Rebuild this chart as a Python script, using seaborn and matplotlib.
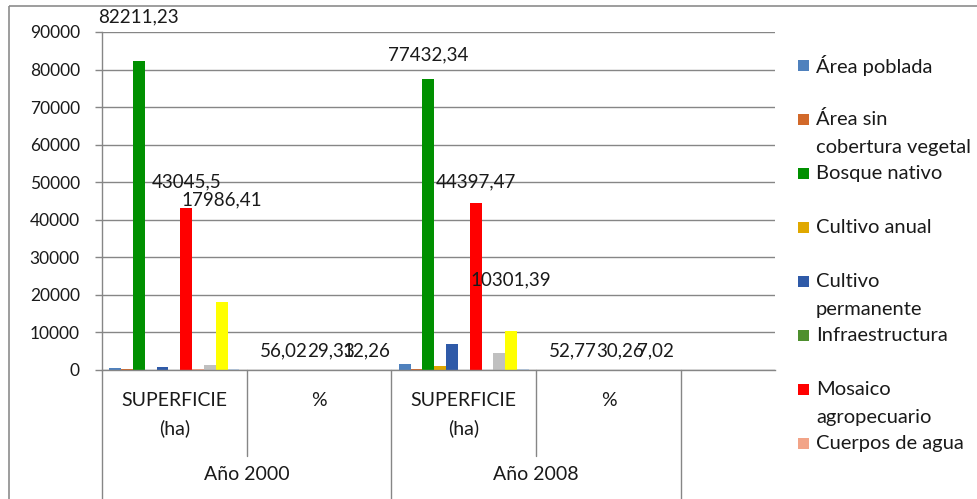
import textwrap
import pandas as pd
import seaborn as sns
import matplotlib.pyplot as plt
from matplotlib.patches import Rectangle

# datos
grupos = ['sup_2000', 'pct_2000', 'sup_2008', 'pct_2008']
nivel1 = ['SUPERFICIE\n(ha)', '%', 'SUPERFICIE\n(ha)', '%']
nivel2 = ['Año 2000', 'Año 2008']
series = ['Área poblada', 'Área sin cobertura vegetal', 'Bosque nativo',
          'Cultivo anual', 'Cultivo permanente', 'Infraestructura',
          'Mosaico agropecuario', 'Cuerpos de agua',
          'Serie 9', 'Serie 10', 'Serie 11']
colores = ['#4F81BD', '#D2692A', '#009000', '#E0A800', '#2F5AA8', '#4E8F2E',
           '#FF0000', '#F2A488', '#C0C0C0', '#FFFF00', '#B8CCE4']

sup_2000 = [450, 350, 82211.23, 100, 900, 60, 43045.5, 200, 1300, 17986.41, 150]
pct_2000 = [0.31, 0.24, 56.02, 0.07, 0.61, 0.04, 29.33, 0.14, 0.89, 12.26, 0.10]
sup_2008 = [1600, 250, 77432.34, 1000, 6900, 55, 44397.47, 0, 4500, 10301.39, 300]
pct_2008 = [1.09, 0.17, 52.77, 0.68, 4.70, 0.04, 30.26, 0.0, 3.07, 7.02, 0.20]

# series con etiqueta de datos y distancia (px) de la etiqueta sobre la barra
etiquetas = {2: [44, 19, 24, 19], 6: [26, 19, 21, 19], 9: [103, 19, 51, 19]}
n_leyenda = 8

valores = {'sup_2000': sup_2000, 'pct_2000': pct_2000,
           'sup_2008': sup_2008, 'pct_2008': pct_2008}
df = pd.DataFrame([(g, s, valores[g][i]) for g in grupos for i, s in enumerate(series)],
                  columns=['grupo', 'serie', 'valor'])

sns.set_style('white')
plt.rcParams['font.family'] = ['Lato', 'DejaVu Sans']
txt = '#1a1a1a'
gris = '#868686'

fig = plt.figure(figsize=(9.77, 4.99), dpi=100)
ax = fig.add_axes([102 / 977, 1 - 370 / 499, (775 - 102) / 977, (370 - 32) / 499])
sns.barplot(data=df, x='grupo', y='valor', hue='serie', order=grupos,
            hue_order=series, palette=colores, width=0.9, gap=0,
            saturation=1, legend=False, ax=ax, linewidth=0)

ax.set_xlim(-0.5, 4.15)
ax.set_ylim(0, 90000)
ax.set_yticks(range(0, 90001, 10000))
ax.set_yticklabels([str(t) for t in range(0, 90001, 10000)])
ax.set_xticks([])
ax.set_xlabel('')
ax.set_ylabel('')
ax.yaxis.grid(True, color=gris, lw=1)
ax.set_axisbelow(True)
ax.tick_params(axis='y', length=5, width=1, color=gris, pad=11,
               labelsize=12.5, labelcolor=txt, left=True, direction='out')
for sp in ['top', 'right']:
    ax.spines[sp].set_visible(False)
for sp in ['left', 'bottom']:
    ax.spines[sp].set_color(gris)
    ax.spines[sp].set_linewidth(1)

for si, offs in etiquetas.items():
    for gi, bar in enumerate(ax.containers[si]):
        v = valores[grupos[gi]][si]
        ax.annotate(str(v).replace('.', ','),
                    (bar.get_x() + bar.get_width() / 2, bar.get_height()),
                    xytext=(0, offs[gi] * 0.72), textcoords='offset points',
                    ha='center', va='center', fontsize=13.5, color=txt,
                    annotation_clip=False)

# capa en pixeles para marco, tabla de categorías y leyenda
ov = fig.add_axes([0, 0, 1, 1], facecolor='none')
ov.set_xlim(0, 977)
ov.set_ylim(499, 0)
ov.axis('off')
ov.add_patch(Rectangle((9, 6), 990, 520, fill=False, ec='#8c8c8c', lw=1.2))

fig.canvas.draw()
def px(x):
    return ax.transData.transform((x, 0))[0]

bordes = [px(i - 0.5) for i in range(5)]
for i, xb in enumerate(bordes):
    y1 = 499 if i % 2 == 0 else 456
    ov.plot([xb, xb], [370, y1], color=gris, lw=1)
for i, lab in enumerate(nivel1):
    xc = (bordes[i] + bordes[i + 1]) / 2
    for j, linea in enumerate(lab.split('\n')):
        ov.text(xc, 400 + 28 * j, linea, ha='center', va='center',
                fontsize=14, color=txt)
for k, lab in enumerate(nivel2):
    xc = (bordes[2 * k] + bordes[2 * k + 2]) / 2
    ov.text(xc, 475, lab, ha='center', va='center', fontsize=14, color=txt)

for k in range(n_leyenda):
    yc = 65 + 54.1 * k
    ov.add_patch(Rectangle((798, yc - 5.5), 11, 11, fc=colores[k], ec='none'))
    for j, linea in enumerate(textwrap.wrap(series[k], 17)):
        ov.text(816, yc + 28 * j, linea, ha='left', va='center',
                fontsize=14.5, color=txt)

fig.savefig('out.png', dpi=100)
